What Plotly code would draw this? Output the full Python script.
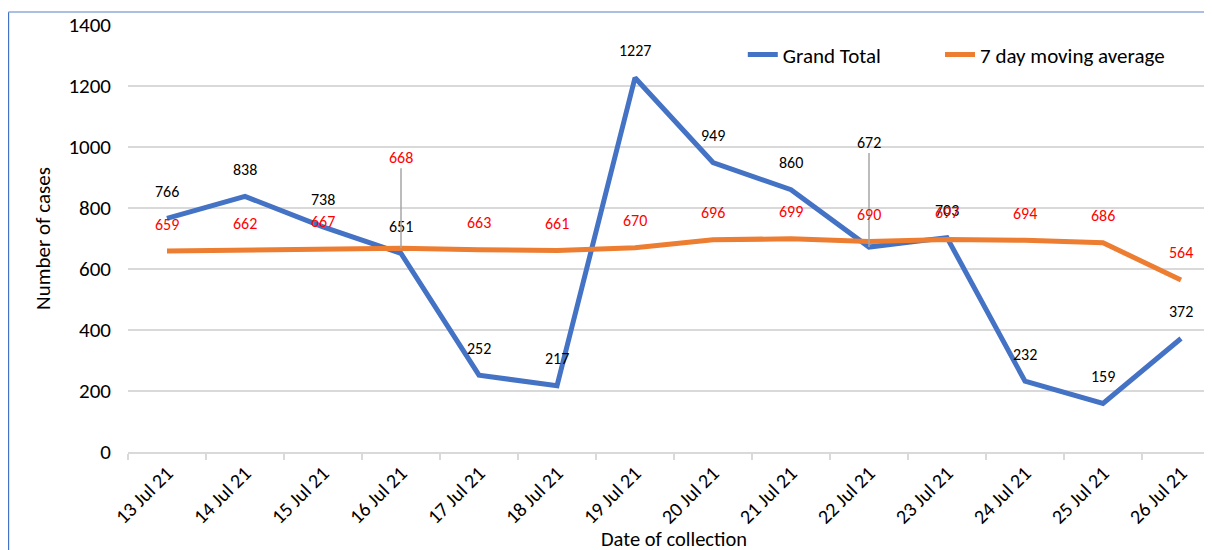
import plotly.graph_objects as go

dates = ["13 Jul 21", "14 Jul 21", "15 Jul 21", "16 Jul 21", "17 Jul 21", "18 Jul 21", "19 Jul 21",
         "20 Jul 21", "21 Jul 21", "22 Jul 21", "23 Jul 21", "24 Jul 21", "25 Jul 21", "26 Jul 21"]
grand_total = [766, 838, 738, 651, 252, 217, 1227, 949, 860, 672, 703, 232, 159, 372]
moving_avg = [659, 662, 667, 668, 663, 661, 670, 696, 699, 690, 697, 694, 686, 564]
y_ticks = [0, 200, 400, 600, 800, 1000, 1200, 1400]

FONT = "Calibri, Carlito, Lato, 'Open Sans', sans-serif"
BLUE = "#4472C4"
ORANGE = "#ED7D31"
LBL = 16

fig = go.Figure()
fig.add_trace(go.Scatter(x=dates, y=grand_total, mode="lines", name="Grand Total",
                         line=dict(color=BLUE, width=5), legend="legend"))
fig.add_trace(go.Scatter(x=dates, y=moving_avg, mode="lines", name="7 day moving average",
                         line=dict(color=ORANGE, width=5), legend="legend2"))

annotations = []
leader_gt = {"22 Jul 21": -105}
leader_ma = {"16 Jul 21": -91}
for series, leaders, col in ((grand_total, leader_gt, "#000000"), (moving_avg, leader_ma, "#FF0000")):
    for d, v in zip(dates, series):
        if d in leaders:
            annotations.append(dict(x=d, y=v, text=str(v), showarrow=True, ax=0, ay=leaders[d],
                                    arrowhead=0, arrowwidth=1.5, arrowcolor="#a6a6a6", standoff=0,
                                    font=dict(family=FONT, size=LBL, color=col)))
        else:
            annotations.append(dict(x=d, y=v, text=str(v), showarrow=False, yshift=27,
                                    font=dict(family=FONT, size=LBL, color=col)))

# x-axis title as paper annotation (to sit where the reference has it)
annotations.append(dict(xref="paper", yref="paper", x=0.5, y=-0.2037, xanchor="center", yanchor="middle",
                        text="Date of collection", showarrow=False,
                        font=dict(family=FONT, size=20.5, color="#000000")))

legend_common = dict(orientation="h", xanchor="left", y=0.93, yanchor="middle",
                     font=dict(family=FONT, size=21, color="#000000"), bgcolor="rgba(0,0,0,0)")

fig.update_layout(
    width=1212, height=550,
    margin=dict(l=120, r=0, t=17, b=106),
    paper_bgcolor="white", plot_bgcolor="white",
    font=dict(family=FONT, size=21, color="#000000"),
    showlegend=True,
    legend=dict(x=0.563, **legend_common),
    legend2=dict(x=0.7436, **legend_common),
    annotations=annotations,
    shapes=[
        dict(type="line", xref="paper", yref="paper", x0=-0.1095, x1=-0.1095, y0=-0.3, y1=1.0304,
             line=dict(color=BLUE, width=1.5)),
        dict(type="line", xref="paper", yref="paper", x0=-0.1095, x1=1.1, y0=1.0304, y1=1.0304,
             line=dict(color="#8FAADC", width=1.5)),
    ],
)

fig.update_xaxes(
    type="category", range=[-0.5, 13.5], tickson="boundaries", automargin=False,
    ticks="outside", ticklen=6, tickcolor="#d9d9d9", tickwidth=1.5,
    showline=True, linecolor="#d9d9d9", linewidth=1.5, showgrid=False,
    tickangle=-45, tickfont=dict(family=FONT, size=20, color="#000000"),
)
fig.update_yaxes(
    range=[0, 1400], tickvals=y_ticks, showgrid=True, gridcolor="#d9d9d9", gridwidth=1.5,
    zeroline=False, showline=False, ticks="", ticklabelstandoff=16, automargin=False,
    tickfont=dict(family=FONT, size=21, color="#000000"),
    title=dict(text="Number of cases", standoff=12, font=dict(family=FONT, size=21, color="#000000")),
)

fig.write_html("out.html")
